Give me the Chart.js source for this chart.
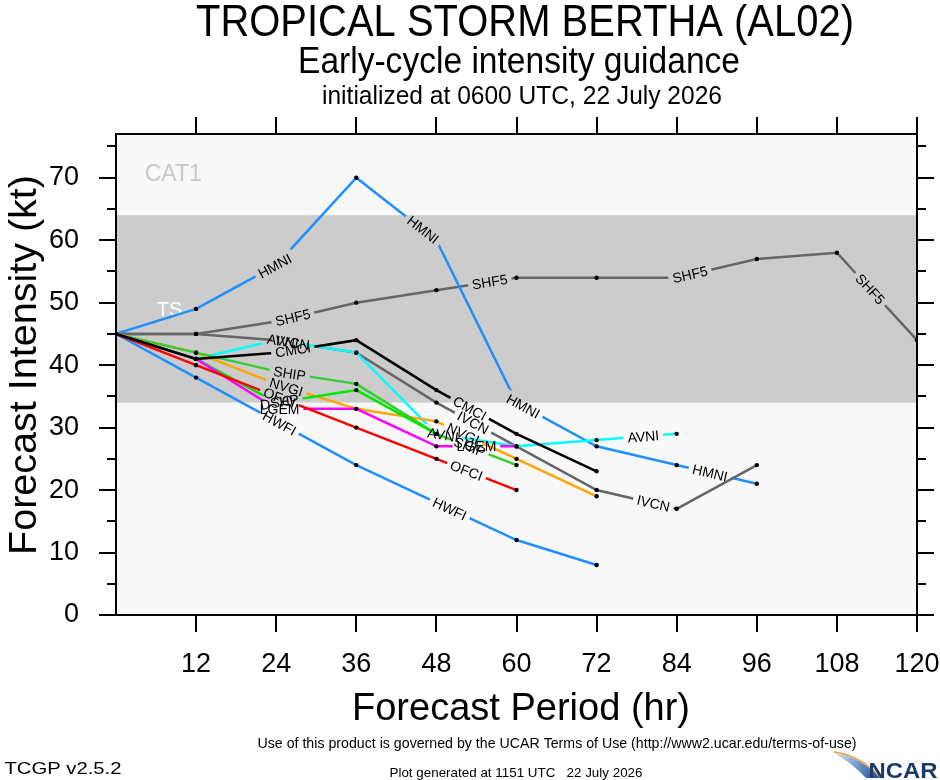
<!DOCTYPE html>
<html>
<head>
<meta charset="utf-8">
<title>Early-cycle intensity guidance</title>
<script src="https://cdn.jsdelivr.net/npm/chart.js@4.4.0/dist/chart.umd.min.js"></script>
<style>
  html, body { margin: 0; padding: 0; background: #fff; }
  #wrap { width: 940px; height: 780px; }
</style>
</head>
<body>
<div id="wrap"><canvas id="intensityChart" width="940" height="780"></canvas></div>
<script>
// forecast hours and axis ticks
var hours = [0, 12, 24, 36, 48, 60, 72, 84, 96, 108, 120];
var xTicks = [12, 24, 36, 48, 60, 72, 84, 96, 108, 120];
var yTicks = [0, 10, 20, 30, 40, 50, 60, 70];
var yMinorTicks = [5, 15, 25, 35, 45, 55, 65, 75];
var tsBand = [34, 64]; // tropical storm range (kt)

// intensity forecasts in kt, one value every 12 h starting at 0 h
var SHF5 = [45, 45, 47, 50, 52, 54, 54, 54, 57, 58, 44];
var HMNI = [45, 49, 56, 70, 60, 34, 27, 24, 21];
var IVCN = [45, 45, 44, 42, 34, 27, 20, 17, 24];
var AVNI = [45, 41, 44, 42, 29, 27, 28, 29];
var CMCI = [45, 41, 42, 44, 36, 29, 23];
var SHIP = [45, 42, 39, 37, 29, 24];
var NVGI = [45, 42, 37, 33, 31, 25, 19];
var DSHP = [45, 41, 34, 36, 29];
var LGEM = [45, 41, 33, 33, 27, 27];
var OFCI = [45, 40, 35, 30, 25, 20];
var HWFI = [45, 38, 31, 24, 18, 12, 8];

var series = [
  { name: "CMCI", values: CMCI, color: "#000000" },
  { name: "OFCI", values: OFCI, color: "#ff0000" },
  { name: "LGEM", values: LGEM, color: "#ff00ff" },
  { name: "DSHP", values: DSHP, color: "#00e600" },
  { name: "SHIP", values: SHIP, color: "#33cc33" },
  { name: "NVGI", values: NVGI, color: "#ffa500" },
  { name: "AVNI", values: AVNI, color: "#00ffff" },
  { name: "IVCN", values: IVCN, color: "#666666" },
  { name: "HWFI", values: HWFI, color: "#1e90ff" },
  { name: "HMNI", values: HMNI, color: "#1e90ff" },
  { name: "SHF5", values: SHF5, color: "#666666" }
];

// where along each line (hour) the model name is written
var labelHours = {
  SHF5: [26.5, 56, 86, 113],
  HMNI: [23.8, 46, 61, 89],
  HWFI: [24.5, 50],
  AVNI: [25, 49, 79],
  IVCN: [26.5, 53.5, 80.5],
  CMCI: [26.5, 53],
  SHIP: [26, 53],
  NVGI: [25.5, 52],
  DSHP: [24.5, 51],
  LGEM: [24.5, 54],
  OFCI: [24.5, 52.5]
};

var FONT = "'Liberation Sans', Arial, Helvetica, sans-serif";

function labelSpots(chart, i) {
  var pts = chart.getDatasetMeta(i).data;
  var xs = chart.scales.x;
  var ctx = chart.ctx;
  var name = chart.data.datasets[i].label;
  ctx.save();
  ctx.font = "14px " + FONT;
  var w = ctx.measureText(name).width;
  ctx.restore();
  var out = [];
  (labelHours[name] || []).forEach(function (h) {
    var px = xs.getPixelForValue(h);
    for (var k = 0; k < pts.length - 1; k++) {
      if (px >= pts[k].x && px <= pts[k + 1].x) {
        var t = (px - pts[k].x) / (pts[k + 1].x - pts[k].x);
        var py = pts[k].y + t * (pts[k + 1].y - pts[k].y);
        var ang = Math.atan2(pts[k + 1].y - pts[k].y, pts[k + 1].x - pts[k].x);
        out.push({ x: px, y: py, ang: ang, w: w });
        break;
      }
    }
  });
  return out;
}

// break each line where its name is written, then write the names
var lineLabels = {
  id: "lineLabels",
  beforeDatasetDraw: function (chart, args) {
    var ctx = chart.ctx;
    var spots = labelSpots(chart, args.index);
    ctx.save();
    ctx.beginPath();
    ctx.rect(0, 0, chart.width, chart.height);
    spots.forEach(function (s) {
      var c = Math.cos(s.ang), sn = Math.sin(s.ang);
      var hw = s.w / 2 + 4, hh = 8;
      [[-hw, -hh], [hw, -hh], [hw, hh], [-hw, hh]].forEach(function (p, j) {
        var X = s.x + p[0] * c - p[1] * sn;
        var Y = s.y + p[0] * sn + p[1] * c;
        if (j === 0) ctx.moveTo(X, Y); else ctx.lineTo(X, Y);
      });
      ctx.closePath();
    });
    ctx.clip("evenodd");
  },
  afterDatasetDraw: function (chart) {
    chart.ctx.restore();
  },
  afterDatasetsDraw: function (chart) {
    var ctx = chart.ctx;
    chart.data.datasets.forEach(function (ds, i) {
      labelSpots(chart, i).forEach(function (s) {
        ctx.save();
        ctx.translate(s.x, s.y);
        ctx.rotate(s.ang);
        ctx.font = "14px " + FONT;
        ctx.fillStyle = "#000";
        ctx.textAlign = "center";
        ctx.textBaseline = "middle";
        ctx.fillText(ds.label, 0, 1);
        ctx.restore();
      });
    });
  }
};

// plot background with the tropical storm band
var bands = {
  id: "bands",
  beforeDraw: function (chart) {
    var a = chart.chartArea, ys = chart.scales.y, xs = chart.scales.x, ctx = chart.ctx;
    ctx.save();
    ctx.fillStyle = "#f8f8f8";
    ctx.fillRect(a.left, a.top, a.right - a.left, a.bottom - a.top);
    var top = ys.getPixelForValue(tsBand[1]);
    var bot = ys.getPixelForValue(tsBand[0]);
    ctx.fillStyle = "#cccccc";
    ctx.fillRect(a.left, top, a.right - a.left, bot - top);
    ctx.textAlign = "left";
    ctx.textBaseline = "alphabetic";
    ctx.font = "23px " + FONT;
    ctx.fillStyle = "#c8c8c8";
    ctx.fillText("CAT1", xs.getPixelForValue(4.3), top - 34);
    ctx.font = "20px " + FONT;
    ctx.fillStyle = "#ffffff";
    ctx.fillText("TS", xs.getPixelForValue(6.1), top + 101);
    ctx.restore();
  }
};

function fitText(ctx, text, cx, cy, size, width, opt) {
  opt = opt || {};
  ctx.save();
  ctx.font = (opt.weight || "") + " " + size + "px " + FONT;
  var w = ctx.measureText(text).width;
  ctx.translate(cx, cy);
  if (opt.rotate) ctx.rotate(opt.rotate);
  ctx.scale(width / w, 1);
  ctx.fillStyle = opt.color || "#000";
  ctx.textAlign = "center";
  ctx.textBaseline = "alphabetic";
  ctx.fillText(text, 0, 0);
  ctx.restore();
}

// titles, axis titles, minor ticks and footer
var decorations = {
  id: "decorations",
  afterDraw: function (chart) {
    var ctx = chart.ctx, a = chart.chartArea, ys = chart.scales.y;
    ctx.save();
    ctx.strokeStyle = "#000";
    ctx.lineWidth = 2;
    yMinorTicks.forEach(function (v) {
      var py = Math.round(ys.getPixelForValue(v));
      ctx.beginPath();
      ctx.moveTo(a.left - 9, py); ctx.lineTo(a.left, py);
      ctx.moveTo(a.right, py); ctx.lineTo(a.right + 9, py);
      ctx.stroke();
    });
    ctx.restore();

    fitText(ctx, "TROPICAL STORM BERTHA (AL02)", 525, 36, 45, 658);
    fitText(ctx, "Early-cycle intensity guidance", 519, 73, 36, 442);
    fitText(ctx, "initialized at 0600 UTC, 22 July 2026", 522, 104, 25, 400);
    fitText(ctx, "Forecast Period (hr)", 521, 720, 39, 338);
    fitText(ctx, "Forecast Intensity (kt)", 36, 365, 39, 380, { rotate: -Math.PI / 2 });
    fitText(ctx, "Use of this product is governed by the UCAR Terms of Use (http://www2.ucar.edu/terms-of-use)", 557, 748, 15, 599);
    fitText(ctx, "TCGP v2.5.2", 63, 774, 17, 117);
    fitText(ctx, "Plot generated at 1151 UTC   22 July 2026", 516, 777, 13, 253);

    // NCAR logo
    ctx.save();
    var g = ctx.createLinearGradient(836, 752, 878, 778);
    g.addColorStop(0, "#cfe3f5");
    g.addColorStop(1, "#1f4e9c");
    ctx.fillStyle = g;
    ctx.beginPath();
    ctx.moveTo(834, 753);
    ctx.quadraticCurveTo(860, 756, 880, 778);
    ctx.lineTo(866, 778);
    ctx.quadraticCurveTo(852, 763, 834, 753);
    ctx.fill();
    ctx.strokeStyle = "#f0a040";
    ctx.lineWidth = 1.5;
    ctx.beginPath();
    ctx.moveTo(834, 752);
    ctx.quadraticCurveTo(860, 755, 880, 777);
    ctx.stroke();
    ctx.restore();
    fitText(ctx, "NCAR", 903, 778, 22, 69, { weight: "bold", color: "#1b3a6b" });
  }
};

var datasets = series.map(function (s) {
  return {
    label: s.name,
    data: s.values.map(function (v, i) { return { x: hours[i], y: v }; }),
    borderColor: s.color,
    borderWidth: 2.5,
    pointRadius: 2.2,
    pointBackgroundColor: "#000",
    pointBorderWidth: 0,
    tension: 0,
    xAxisID: "x",
    yAxisID: "y"
  };
});

function axisGrid() {
  return { drawOnChartArea: false, drawTicks: true, tickLength: 17, color: "#000", lineWidth: 2 };
}

// fixed box sizes so the frame sits where the reference has it
function fixBox(size) {
  return function (s) {
    if (s.isHorizontal()) s.height = size; else s.width = size;
    s.paddingLeft = 0; s.paddingRight = 0; s.paddingTop = 0; s.paddingBottom = 0;
  };
}

var ctx = document.getElementById("intensityChart").getContext("2d");
var myChart = new Chart(ctx, {
  type: "line",
  data: { datasets: datasets },
  plugins: [bands, lineLabels, decorations],
  options: {
    responsive: false,
    animation: false,
    devicePixelRatio: 1,
    layout: { padding: 0 },
    plugins: { legend: { display: false }, tooltip: { enabled: false } },
    scales: {
      x: {
        type: "linear", position: "bottom", min: 0, max: 120,
        afterBuildTicks: function (s) { s.ticks = xTicks.map(function (v) { return { value: v }; }); },
        afterFit: fixBox(165),
        grid: axisGrid(),
        border: { display: true, color: "#000", width: 2 },
        ticks: { color: "#000", font: { family: FONT, size: 27 }, padding: 16, maxRotation: 0, autoSkip: false }
      },
      xTop: {
        type: "linear", position: "top", min: 0, max: 120,
        afterBuildTicks: function (s) { s.ticks = xTicks.map(function (v) { return { value: v }; }); },
        afterFit: fixBox(134),
        grid: axisGrid(),
        border: { display: true, color: "#000", width: 2 },
        ticks: { display: false }
      },
      y: {
        type: "linear", position: "left", min: 0, max: 77,
        afterBuildTicks: function (s) { s.ticks = yTicks.map(function (v) { return { value: v }; }); },
        afterFit: fixBox(116),
        grid: axisGrid(),
        border: { display: true, color: "#000", width: 2 },
        ticks: { color: "#000", font: { family: FONT, size: 27 }, padding: 20, autoSkip: false }
      },
      yRight: {
        type: "linear", position: "right", min: 0, max: 77,
        afterBuildTicks: function (s) { s.ticks = yTicks.map(function (v) { return { value: v }; }); },
        afterFit: fixBox(23),
        grid: axisGrid(),
        border: { display: true, color: "#000", width: 2 },
        ticks: { display: false }
      }
    }
  }
});
</script>
</body>
</html>
